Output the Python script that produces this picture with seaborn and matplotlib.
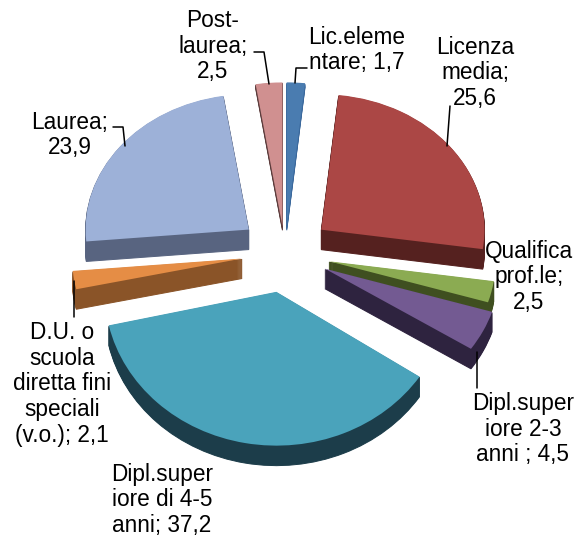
import matplotlib
matplotlib.use("Agg")
from matplotlib import pyplot as plt
from matplotlib.lines import Line2D
from matplotlib.transforms import Affine2D
import seaborn as sns

sns.set_theme(style="white")
plt.rcParams["font.family"] = ["Liberation Sans", "DejaVu Sans"]

categories = ["Lic.elementare", "Licenza media", "Qualifica prof.le", "Dipl.superiore 2-3 anni",
              "Dipl.superiore di 4-5 anni", "D.U. o scuola diretta fini speciali (v.o.)", "Laurea", "Post-laurea"]
values = [1.7, 25.6, 2.5, 4.5, 37.2, 2.1, 23.9, 2.5]
labels = [
    "Lic.eleme\nntare; 1,7",
    "Licenza\nmedia;\n25,6",
    "Qualifica\nprof.le;\n2,5",
    "Dipl.super\niore 2-3\nanni ; 4,5",
    "Dipl.super\niore di 4-5\nanni; 37,2",
    "D.U. o\nscuola\ndiretta fini\nspeciali\n(v.o.); 2,1",
    "Laurea;\n23,9",
    "Post-\nlaurea;\n2,5",
]

top_colors = ["#4a7cb0", "#ab4745", "#8bab52", "#735a92", "#4aa3bb", "#e58d45", "#9db1d8", "#d09090"]
side_colors = ["#3a689c", "#55211f", "#3f4f20", "#2e233f", "#1c3d4a", "#8a5428", "#586480", "#5c3c3c"]

# per slice tweaks, the original has a perspective that a flat pie does not
explode = [0.19, 0.27, 0.265, 0.26, 0.28, 0.255, 0.27, 0.19]
radius_scale = [1.01, 0.96, 0.98, 1.03, 1.01, 1.0, 0.96, 1.01]
stretch_y = [1.01, 1.0, 1.0, 1.0, 1.08, 1.0, 1.0, 1.01]
slice_depth = [4, 20, 20, 20, 20, 20, 20, 4]
draw_order = [0, 2, 5, 6, 7, 4, 3, 1]

# label anchors and leader lines, in pixels of the 580x537 picture
label_x = [357, 475, 529, 523, 162, 62, 70, 213]
label_y = [50, 73, 277, 429, 500, 384, 135, 46]
leaders = [
    ([295, 296, 307], [83, 68, 68]),
    ([447, 450], [146, 106]),
    ([477, 477], [352, 388]),
    ([74, 74], [281, 317]),
    ([125, 123, 113], [146, 127, 127]),
    ([269, 264, 254], [84, 52, 52]),
]

WIDTH, HEIGHT = 580, 537
CENTER_X, CENTER_Y = 285, 253
RADIUS_X, RADIUS_Y = 170, 141
DEPTH = 20

figure = plt.figure(figsize=(WIDTH / 100, HEIGHT / 100), dpi=100)
axes = figure.add_axes([0, 0, 1, 1])


def draw_layer(colors, offset, level, edge=0.0):
    wedges, _ = axes.pie(
        values,
        colors=colors,
        explode=explode,
        startangle=90,
        counterclock=False,
        center=(0, -offset / RADIUS_Y),
        wedgeprops={"linewidth": edge},
    )
    for i, wedge in enumerate(wedges):
        wedge.set_radius(radius_scale[i])
        wedge.set_zorder(draw_order[i] + level)
        wedge.set_visible(offset <= slice_depth[i])
        if edge:
            wedge.set_edgecolor(colors[i])
        # stretch around the slice tip
        tip_x, tip_y = wedge.center
        wedge.set_transform(
            Affine2D().translate(-tip_x, -tip_y).scale(1, stretch_y[i]).translate(tip_x, tip_y) + axes.transData
        )


for step in range(DEPTH, 0, -1):
    draw_layer(side_colors, step, 0.1, edge=0.7)
draw_layer(top_colors, 0, 0.5)

axes.set_aspect("auto")
axes.set_xlim(-CENTER_X / RADIUS_X, (WIDTH - CENTER_X) / RADIUS_X)
axes.set_ylim(-(HEIGHT - CENTER_Y) / RADIUS_Y, CENTER_Y / RADIUS_Y)
axes.axis("off")

for text, x, y in zip(labels, label_x, label_y):
    figure.text(x / WIDTH, 1 - y / HEIGHT, text, ha="center", va="center",
                fontsize=16.3, color="black", linespacing=1.15)

for xs, ys in leaders:
    figure.add_artist(Line2D([x / WIDTH for x in xs], [1 - y / HEIGHT for y in ys],
                             color="black", linewidth=1.1))

figure.savefig("out.png", dpi=100)
